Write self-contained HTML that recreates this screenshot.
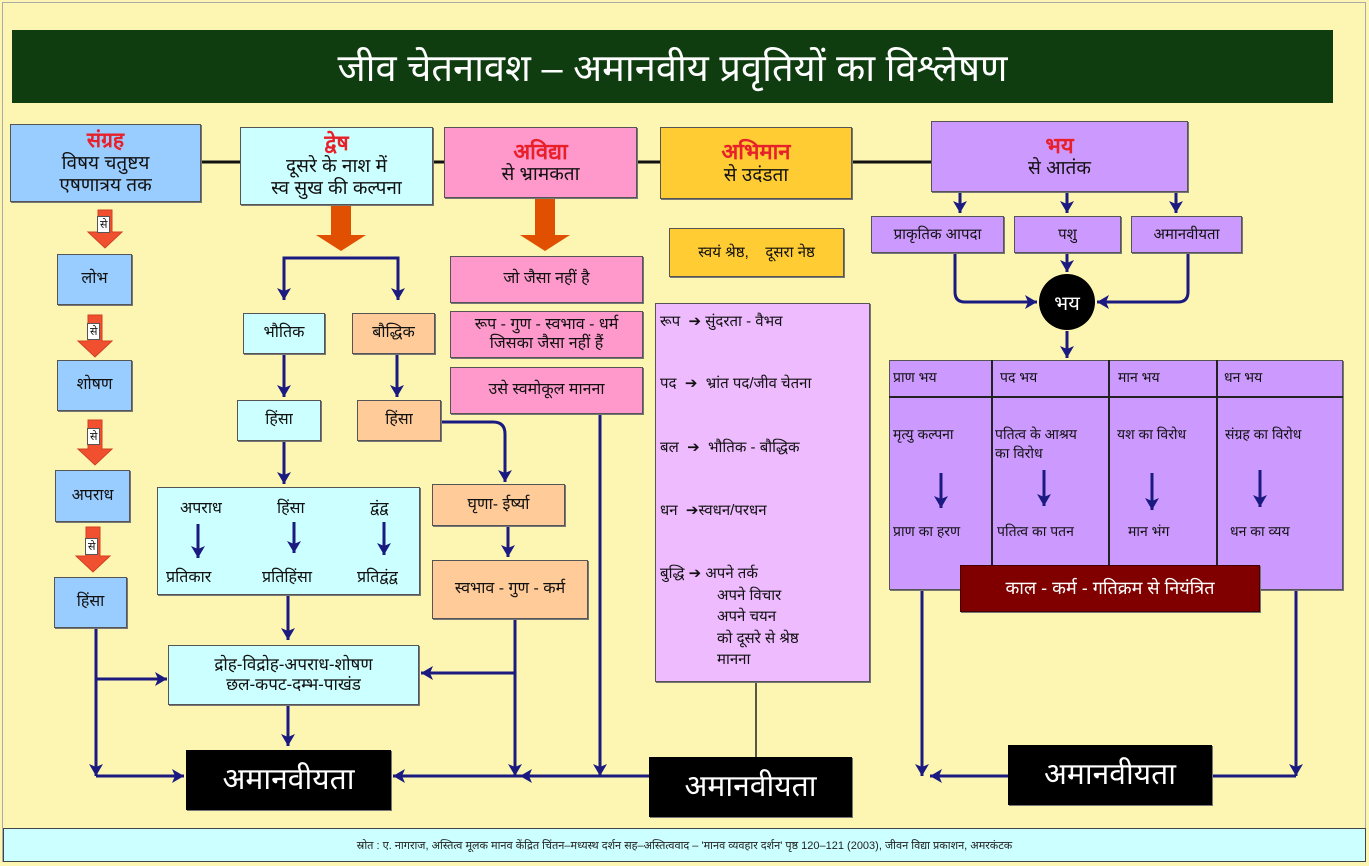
<!DOCTYPE html>
<html><head><meta charset="utf-8">
<style>
body{margin:0;width:1369px;height:866px;background:#fdf6b2;position:relative;overflow:hidden;font-family:"Liberation Sans","Noto Sans CJK SC",sans-serif;}
.b{position:absolute;box-sizing:border-box;border:1.5px solid #555;display:flex;flex-direction:column;align-items:center;justify-content:center;text-align:center;color:#111;line-height:1.15;box-shadow:1px 1px 0 #777;}
.r{color:#e8202a;font-weight:bold;}
.blue{background:#99ccff}.cy{background:#ccffff}.pk{background:#ff99cc}.gd{background:#ffcc33}.lv{background:#cc99ff}.pc{background:#ffcc99}.lp{background:#eebbff}
.blk{background:#000;color:#fff;font-size:30px;border:none}
.t{position:absolute;font-size:15px;color:#111;white-space:nowrap}
svg{position:absolute;left:0;top:0}
</style></head><body>
<div style="position:absolute;left:2px;top:2px;width:1364px;height:860px;border:1px solid #aaa;box-sizing:border-box"></div>
<div style="position:absolute;left:12px;top:30px;width:1321px;height:73px;background:#0f3d10;color:#fff;font-size:38px;display:flex;align-items:center;justify-content:center">जीव चेतनावश – अमानवीय प्रवृतियों का विश्लेषण</div>

<svg width="1369" height="866">
<defs>
<marker id="a" markerWidth="8" markerHeight="8" refX="7" refY="4" orient="auto" markerUnits="userSpaceOnUse"><path d="M0,0 L8,4 L0,8 Z" fill="#1a1a80"/></marker>
<marker id="a2" markerWidth="14" markerHeight="14" refX="12" refY="7" orient="auto" markerUnits="userSpaceOnUse"><path d="M0,0 L12,7 L0,14 L3,7 Z" fill="#1a1a80"/></marker>
</defs>
<g stroke="#111" stroke-width="3"><line x1="201" y1="162" x2="931" y2="162"/></g>
<!-- red arrows left -->
<g fill="#f05030" stroke="#d04020">
<path d="M98,210 h14 v22 h10 l-17,16 l-17,-16 h10 z"/>
<path d="M88,315 h14 v26 h10 l-17,16 l-17,-16 h10 z"/>
<path d="M88,420 h14 v29 h10 l-17,16 l-17,-16 h10 z"/>
<path d="M86,527 h14 v29 h10 l-17,16 l-17,-16 h10 z"/>
</g>
<g fill="#e05000">
<path d="M331,205 h20 v30 h15 l-25,16 l-25,-16 h15 z"/>
<path d="M535,198 h20 v37 h15 l-25,16 l-25,-16 h15 z"/>
</g>
<g stroke="#1a1a80" stroke-width="3" fill="none" marker-end="url(#a2)">
<path d="M284,300 V258 H398 V300" marker-end="none"/>
<line x1="284" y1="270" x2="284" y2="300"/>
<line x1="398" y1="270" x2="398" y2="300"/>
<line x1="284" y1="354" x2="284" y2="397"/>
<line x1="397" y1="354" x2="397" y2="397"/>
<path d="M441,422 H493 Q505,422 505,434 V482"/>
<line x1="284" y1="441" x2="284" y2="484"/>
<line x1="198" y1="524" x2="198" y2="558"/>
<line x1="294" y1="522" x2="294" y2="553"/>
<line x1="384" y1="522" x2="384" y2="555"/>
<line x1="288" y1="596" x2="288" y2="640"/>
<line x1="508" y1="526" x2="508" y2="557"/>
<line x1="288" y1="706" x2="288" y2="746"/>
<line x1="96" y1="629" x2="96" y2="776"/>
<path d="M96,679 H167"/>
<path d="M96,776 H184"/>
<line x1="515" y1="620" x2="515" y2="776"/>
<path d="M515,673 H421"/>
<line x1="600" y1="414" x2="600" y2="776"/>
<path d="M649,776 H393"/>
<line x1="649" y1="776" x2="520" y2="776"/>
<line x1="922" y1="590" x2="922" y2="776"/>
<path d="M1008,776 H930"/>
<line x1="1296" y1="590" x2="1296" y2="776"/>
<path d="M1212,776 H1296" marker-end="none"/>
<line x1="960" y1="192" x2="960" y2="213"/>
<line x1="1067" y1="192" x2="1067" y2="213"/>
<line x1="1176" y1="192" x2="1176" y2="213"/>
<line x1="1067" y1="253" x2="1067" y2="272"/>
<path d="M955,253 V292 Q955,302 965,302 H1037"/>
<path d="M1188,253 V292 Q1188,302 1178,302 H1097"/>
<line x1="1067" y1="331" x2="1067" y2="358"/>
<line x1="941" y1="473" x2="941" y2="508"/>
<line x1="1044" y1="470" x2="1044" y2="506"/>
<line x1="1152" y1="473" x2="1152" y2="510"/>
<line x1="1260" y1="470" x2="1260" y2="507"/>
</g>
<line x1="756" y1="682" x2="756" y2="757" stroke="#222" stroke-width="1.5"/>
<circle cx="1067" cy="302" r="28" fill="#000"/>
<text x="1067" y="310" fill="#fff" font-size="20" text-anchor="middle" font-family="Liberation Sans,sans-serif">भय</text>
</svg>

<div class="b blue" style="left:10px;top:124px;width:191px;height:78px;font-size:19px"><span class="r" style="font-size:21px">संग्रह</span>विषय चतुष्टय<br>एषणात्रय तक</div>
<div class="b cy" style="left:240px;top:127px;width:193px;height:78px;font-size:19px"><span class="r" style="font-size:21px">द्वेष</span>दूसरे के नाश में<br>स्व सुख की कल्पना</div>
<div class="b pk" style="left:444px;top:127px;width:193px;height:71px;font-size:19px"><span class="r" style="font-size:22px">अविद्या</span>से भ्रामकता</div>
<div class="b gd" style="left:660px;top:127px;width:192px;height:72px;font-size:19px"><span class="r" style="font-size:22px">अभिमान</span>से उदंडता</div>
<div class="b lv" style="left:931px;top:121px;width:257px;height:71px;font-size:19px"><span class="r" style="font-size:22px">भय</span>से आतंक</div>

<div class="t" style="left:97px;top:216px;background:#fff;border:1px solid #555;font-size:11px;padding:0 2px">से</div>
<div class="t" style="left:87px;top:323px;background:#fff;border:1px solid #555;font-size:11px;padding:0 2px">से</div>
<div class="t" style="left:87px;top:428px;background:#fff;border:1px solid #555;font-size:11px;padding:0 2px">से</div>
<div class="t" style="left:85px;top:538px;background:#fff;border:1px solid #555;font-size:11px;padding:0 2px">से</div>

<div class="b blue" style="left:57px;top:254px;width:75px;height:51px;font-size:16px">लोभ</div>
<div class="b blue" style="left:57px;top:360px;width:75px;height:51px;font-size:16px">शोषण</div>
<div class="b blue" style="left:55px;top:470px;width:75px;height:52px;font-size:16px">अपराध</div>
<div class="b blue" style="left:54px;top:577px;width:73px;height:51px;font-size:16px">हिंसा</div>

<div class="b cy" style="left:243px;top:313px;width:82px;height:41px;font-size:16px">भौतिक</div>
<div class="b pc" style="left:352px;top:313px;width:83px;height:41px;font-size:16px">बौद्धिक</div>
<div class="b cy" style="left:237px;top:400px;width:84px;height:41px;font-size:16px">हिंसा</div>
<div class="b pc" style="left:357px;top:400px;width:84px;height:41px;font-size:16px">हिंसा</div>

<div class="b cy" style="left:157px;top:487px;width:263px;height:108px"></div>
<div class="t" style="left:180px;top:496px;font-size:16px">अपराध</div>
<div class="t" style="left:277px;top:496px;font-size:16px">हिंसा</div>
<div class="t" style="left:370px;top:496px;font-size:16px">द्वंद्व</div>
<div class="t" style="left:166px;top:565px;font-size:16px">प्रतिकार</div>
<div class="t" style="left:262px;top:565px;font-size:16px">प्रतिहिंसा</div>
<div class="t" style="left:357px;top:565px;font-size:16px">प्रतिद्वंद्व</div>
<svg width="1369" height="866" style="pointer-events:none"><g stroke="#1a1a80" stroke-width="3" marker-end="url(#a2)"><line x1="198" y1="524" x2="198" y2="558"/><line x1="294" y1="522" x2="294" y2="553"/><line x1="384" y1="522" x2="384" y2="555"/></g></svg>

<div class="b pc" style="left:432px;top:484px;width:133px;height:42px;font-size:16px">घृणा- ईर्ष्या</div>
<div class="b pc" style="left:432px;top:560px;width:156px;height:59px;font-size:16px">स्वभाव - गुण - कर्म</div>
<div class="b cy" style="left:168px;top:645px;width:251px;height:60px;font-size:17px">द्रोह-विद्रोह-अपराध-शोषण<br>छल-कपट-दम्भ-पाखंड</div>

<div class="b pk" style="left:450px;top:256px;width:193px;height:47px;font-size:16px">जो जैसा नहीं है</div>
<div class="b pk" style="left:450px;top:311px;width:193px;height:47px;font-size:16px">रूप - गुण - स्वभाव - धर्म<br>जिसका जैसा नहीं हैं</div>
<div class="b pk" style="left:450px;top:367px;width:193px;height:47px;font-size:16px">उसे स्वमोकूल मानना</div>

<div class="b gd" style="left:669px;top:228px;width:175px;height:49px;font-size:15px">स्वयं श्रेष्ठ,&nbsp;&nbsp;&nbsp; दूसरा नेष्ठ</div>
<div class="b lp" style="left:655px;top:303px;width:215px;height:379px;align-items:flex-start;justify-content:flex-start"></div>
<div class="t" style="left:660px;top:311px">रूप &nbsp;➔ सुंदरता - वैभव</div>
<div class="t" style="left:660px;top:373px">पद &nbsp;➔ &nbsp;भ्रांत पद/जीव चेतना</div>
<div class="t" style="left:660px;top:437px">बल &nbsp;➔ &nbsp;भौतिक - बौद्धिक</div>
<div class="t" style="left:660px;top:500px">धन &nbsp;➔स्वधन/परधन</div>
<div class="t" style="left:660px;top:563px;line-height:21.5px">बुद्धि ➔ अपने तर्क<br><span style="padding-left:57px">अपने विचार</span><br><span style="padding-left:57px">अपने चयन</span><br><span style="padding-left:57px">को दूसरे से श्रेष्ठ</span><br><span style="padding-left:57px">मानना</span></div>

<div class="b lv" style="left:871px;top:216px;width:133px;height:37px;font-size:15px">प्राकृतिक आपदा</div>
<div class="b lv" style="left:1014px;top:216px;width:107px;height:37px;font-size:15px">पशु</div>
<div class="b lv" style="left:1131px;top:216px;width:111px;height:37px;font-size:15px">अमानवीयता</div>

<div class="b lv" style="left:889px;top:360px;width:454px;height:230px"></div>
<div style="position:absolute;left:889px;top:396px;width:454px;height:2px;background:#222"></div>
<div style="position:absolute;left:991px;top:360px;width:1.5px;height:205px;background:#222"></div>
<div style="position:absolute;left:1108px;top:360px;width:1.5px;height:205px;background:#222"></div>
<div style="position:absolute;left:1216px;top:360px;width:1.5px;height:205px;background:#222"></div>
<div class="t" style="left:893px;top:368px;font-size:14px">प्राण भय</div>
<div class="t" style="left:1000px;top:368px;font-size:14px">पद भय</div>
<div class="t" style="left:1118px;top:368px;font-size:14px">मान भय</div>
<div class="t" style="left:1224px;top:368px;font-size:14px">धन भय</div>
<div class="t" style="left:893px;top:425px;font-size:14px">मृत्यु कल्पना</div>
<div class="t" style="left:995px;top:425px;font-size:14px;line-height:19px">पतित्व के आश्रय<br>का विरोध</div>
<div class="t" style="left:1117px;top:425px;font-size:14px">यश का विरोध</div>
<div class="t" style="left:1225px;top:425px;font-size:14px">संग्रह का विरोध</div>
<div class="t" style="left:893px;top:522px;font-size:14px">प्राण का हरण</div>
<div class="t" style="left:997px;top:522px;font-size:14px">पतित्व का पतन</div>
<div class="t" style="left:1128px;top:522px;font-size:14px">मान भंग</div>
<div class="t" style="left:1230px;top:522px;font-size:14px">धन का व्यय</div>
<svg width="1369" height="866" style="pointer-events:none"><g stroke="#1a1a80" stroke-width="3" marker-end="url(#a2)"><line x1="941" y1="473" x2="941" y2="508"/><line x1="1044" y1="470" x2="1044" y2="506"/><line x1="1152" y1="473" x2="1152" y2="510"/><line x1="1260" y1="470" x2="1260" y2="507"/></g></svg>
<div class="b" style="left:960px;top:565px;width:300px;height:47px;background:#800000;color:#fff;font-size:18px;border-color:#400">काल - कर्म - गतिक्रम से नियंत्रित</div>

<div class="b blk" style="left:186px;top:750px;width:205px;height:60px">अमानवीयता</div>
<div class="b blk" style="left:649px;top:757px;width:203px;height:60px">अमानवीयता</div>
<div class="b blk" style="left:1008px;top:745px;width:204px;height:60px">अमानवीयता</div>

<div style="position:absolute;left:3px;top:828px;width:1363px;height:34px;background:#ccffff;border:1.5px solid #444;box-sizing:border-box;display:flex;align-items:center;justify-content:center;font-size:11px;color:#222">स्रोत : ए. नागराज, अस्तित्व मूलक मानव केंद्रित चिंतन–मध्यस्थ दर्शन सह–अस्तित्ववाद – 'मानव व्यवहार दर्शन' पृष्ठ 120–121 (2003), जीवन विद्या प्रकाशन, अमरकंटक</div>
</body></html>
